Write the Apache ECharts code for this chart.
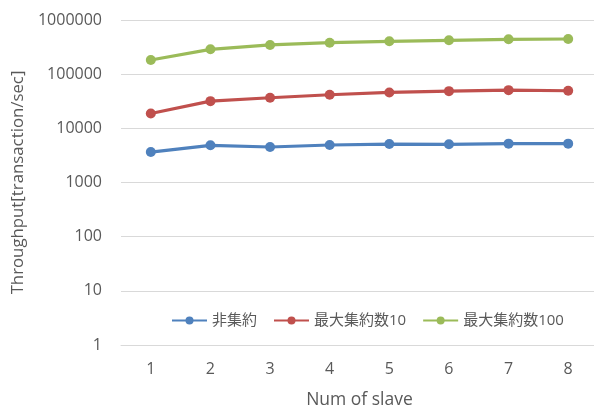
<!DOCTYPE html>
<html>
<head>
<meta charset="utf-8">
<script src="https://cdn.jsdelivr.net/npm/echarts@6/dist/echarts.min.js"></script>
<style>
  html, body { margin: 0; padding: 0; background: #fff; }
  #chart { width: 594px; height: 408px; }
</style>
</head>
<body>
<div id="chart"></div>
<script>
// Throughput per number of slaves, log scale
const slaves = ['1', '2', '3', '4', '5', '6', '7', '8'];
const seriesNames = ['非集約', '最大集約数10', '最大集約数100'];
const nonAggregated = [3650, 4860, 4520, 4920, 5130, 5070, 5220, 5220];
const maxAggregate10 = [18800, 31750, 36700, 41700, 45950, 48560, 50700, 49400];
const maxAggregate100 = [182800, 287700, 346000, 381000, 404500, 422000, 440500, 446000];
const colors = ['#4F81BD', '#C0504D', '#9BBB59'];

const FONT = "'Open Sans', 'Noto Sans CJK JP', sans-serif";
const TEXT = '#595959';

const chart = echarts.init(document.getElementById('chart'), null, { renderer: 'canvas' });

function line(name, data, color) {
  return {
    name: name,
    type: 'line',
    data: data,
    symbol: 'circle',
    symbolSize: 10,
    lineStyle: { width: 3.2, color: color },
    itemStyle: { color: color },
    z: 3
  };
}

chart.setOption({
  animation: false,
  color: colors,
  grid: { left: 121, top: 20, width: 477, height: 325, containLabel: false, outerBoundsMode: 'none' },
  legend: {
    left: 171,
    top: 313,
    padding: 0,
    itemWidth: 35,
    itemHeight: 10,
    itemGap: 16,
    textStyle: { fontFamily: FONT, fontSize: 15, color: TEXT },
    data: seriesNames
  },
  xAxis: {
    type: 'category',
    data: slaves,
    boundaryGap: true,
    name: 'Num of slave',
    nameLocation: 'middle',
    nameGap: 46,
    nameTextStyle: { fontFamily: FONT, fontSize: 17.5, color: TEXT },
    axisLine: { show: true, lineStyle: { color: '#D9D9D9', width: 1 } },
    axisTick: { show: false },
    axisLabel: { fontFamily: FONT, fontSize: 16, color: TEXT, margin: 16 },
    splitLine: { show: false }
  },
  yAxis: {
    type: 'log',
    logBase: 10,
    min: 1,
    max: 1000000,
    name: 'Throughput[transaction/sec]',
    nameLocation: 'middle',
    nameGap: 88,
    nameTextStyle: { fontFamily: FONT, fontSize: 16.8, color: TEXT },
    axisLine: { show: false },
    axisTick: { show: false },
    axisLabel: {
      fontFamily: FONT, fontSize: 16, color: TEXT, margin: 19,
      formatter: function (v) { return String(Math.round(v)); }
    },
    splitLine: { show: true, lineStyle: { color: '#D9D9D9', width: 1 } }
  },
  series: [
    line(seriesNames[0], nonAggregated, colors[0]),
    line(seriesNames[1], maxAggregate10, colors[1]),
    line(seriesNames[2], maxAggregate100, colors[2])
  ]
});
</script>
</body>
</html>
